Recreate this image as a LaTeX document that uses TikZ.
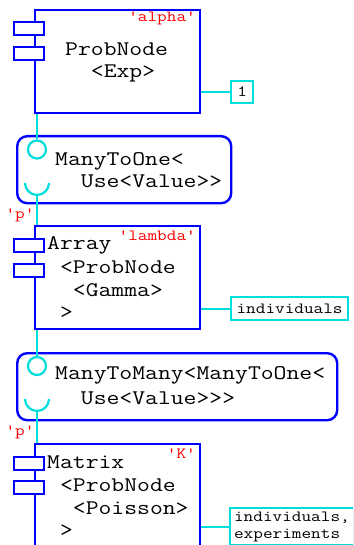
\documentclass[tikz,border=0pt]{standalone}
\usepackage{fontspec}
\setmonofont[FakeStretch=1.2]{Latin Modern Mono}
\definecolor{wirec}{RGB}{0,221,221}
\definecolor{compblue}{RGB}{0,0,255}
\definecolor{labred}{RGB}{255,0,0}
\newcommand\bigmono{\ttfamily\fontsize{20.8}{22.5}\selectfont}
\newcommand\smallmono{\ttfamily\fontsize{15.6}{17}\selectfont}
\tikzset{
  comp/.style={draw=compblue, line width=2.4pt, minimum width=165pt, anchor=north west, inner sep=0pt},
  tabbox/.style={draw=compblue, line width=2.4pt, fill=white, minimum width=30pt, minimum height=13pt, inner sep=0pt, anchor=north west},
  iface/.style={draw=compblue, line width=2.4pt, rounded corners=10pt, anchor=north west, inner sep=0pt},
  wire/.style={draw=wirec, line width=2.2pt},
  lolli/.style={circle, draw=wirec, line width=2.2pt, minimum size=18pt, inner sep=0pt},
  tagbox/.style={draw=wirec, line width=2.2pt, fill=white, anchor=north west, font=\smallmono, inner sep=0pt, align=left},
  txt/.style={font=\bigmono, anchor=base west, inner sep=0pt},
  redlab/.style={text=labred, font=\smallmono, inner sep=0pt},
}
\begin{document}
\begin{tikzpicture}[x=1pt,y=-1pt]
\useasboundingbox (0,0) rectangle (353,545);
\clip (0,0) rectangle (353,545);
\fill[white] (0,0) rectangle (353,545);

% ---- component 1 ----
\node[comp, minimum height=103pt] (b1) at (34,9) {};
\node[tabbox] (b1t1) at (13,21) {};
\node[tabbox] (b1t2) at (13,46) {};
\node[redlab, anchor=base east] (b1lab) at (196,22) {'alpha'};
\node[txt] (b1l1) at (65,56) {ProbNode};
\node[txt] (b1l2) at (65,78) {~~<Exp>};
\node[tagbox, minimum width=22pt, minimum height=22pt, align=center] (tag1) at (230,80) {1};
\draw[wire] (b1.east |- tag1.west) -- (tag1.west);

% ---- interface 1 ----
\node[iface, minimum width=214pt, minimum height=67pt] (i1) at (16,135) {};
\node[lolli] (c1) at (37,149.5) {};
\draw[wire] (c1.north) -- (c1.north |- b1.south);
\coordinate (s1c) at (37,183);
\draw[wire] ([xshift=-12pt]s1c) arc[start angle=180, end angle=0, radius=12];
\coordinate (s1) at (37,195);
\node[txt] (i1l1) at (55,166) {ManyToOne<};
\node[txt] (i1l2) at (55,188) {~~Use<Value>>};
\node[redlab, anchor=base] (p1) at (20,218) {'p'};

% ---- component 2 ----
\node[comp, minimum height=103pt] (b2) at (34,225) {};
\draw[wire] (s1) -- (s1 |- b2.north);
\node[tabbox] (b2t1) at (13,238) {};
\node[tabbox] (b2t2) at (13,263) {};
\node[redlab, anchor=base east] (b2lab) at (196,240) {'lambda'};
\node[txt] (b2l1) at (47,249) {Array};
\node[txt] (b2l2) at (47,273) {~<ProbNode};
\node[txt] (b2l3) at (47,296) {~~<Gamma>};
\node[txt] (b2l4) at (47,318) {~>};
\node[tagbox, minimum width=117pt, minimum height=23pt, align=center] (tag2) at (230,296) {individuals};
\draw[wire] (b2.east |- tag2.west) -- (tag2.west);

% ---- interface 2 ----
\node[iface, minimum width=320pt, minimum height=67pt] (i2) at (16,352) {};
\node[lolli] (c2) at (37,366) {};
\draw[wire] (c2.north) -- (c2.north |- b2.south);
\coordinate (s2c) at (37,399);
\draw[wire] ([xshift=-12pt]s2c) arc[start angle=180, end angle=0, radius=12];
\coordinate (s2) at (37,411);
\node[txt] (i2l1) at (55,379) {ManyToMany<ManyToOne<};
\node[txt] (i2l2) at (55,404) {~~Use<Value>>>};
\node[redlab, anchor=base] (p2) at (20,435) {'p'};

% ---- component 3 ----
\node[comp, minimum height=150pt] (b3) at (34,443) {};
\draw[wire] (s2) -- (s2 |- b3.north);
\node[tabbox] (b3t1) at (13,456) {};
\node[tabbox] (b3t2) at (13,480) {};
\node[redlab, anchor=base east] (b3lab) at (196,458) {'K'};
\node[txt] (b3l1) at (47,468) {Matrix};
\node[txt] (b3l2) at (47,491) {~<ProbNode};
\node[txt] (b3l3) at (47,514) {~~<Poisson>};
\node[txt] (b3l4) at (47,536) {~>};
\node[tagbox, minimum width=123pt, minimum height=37pt, inner xsep=4pt] (tag3) at (229,507) {individuals,\\experiments};
\draw[wire] (b3.east |- tag3.west) -- (tag3.west);
\end{tikzpicture}
\end{document}
